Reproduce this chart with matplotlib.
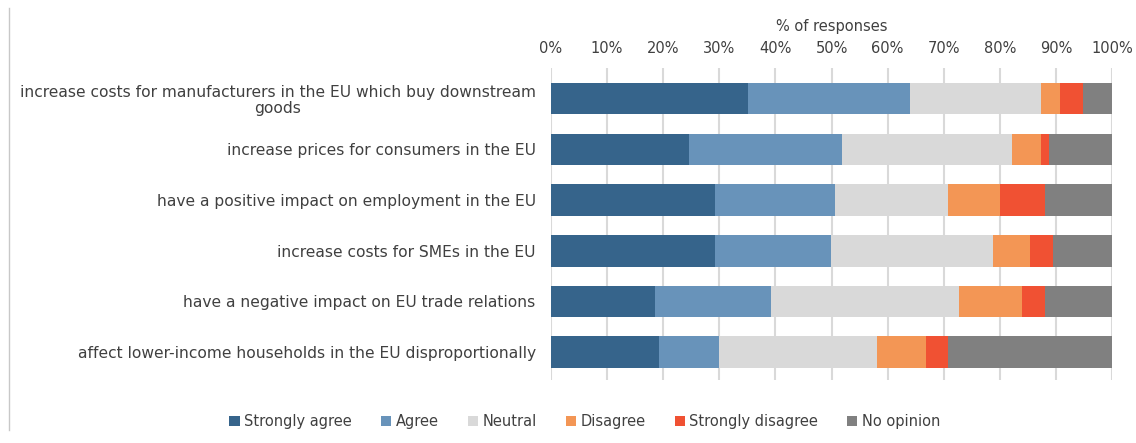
import matplotlib
matplotlib.use("Agg")
import matplotlib.pyplot as plt
from matplotlib.lines import Line2D
import numpy as np

statements = [
    "increase costs for manufacturers in the EU which buy downstream\ngoods",
    "increase prices for consumers in the EU",
    "have a positive impact on employment in the EU",
    "increase costs for SMEs in the EU",
    "have a negative impact on EU trade relations",
    "affect lower-income households in the EU disproportionally",
]
categories = ["Strongly agree", "Agree", "Neutral", "Disagree", "Strongly disagree", "No opinion"]
colors = ["#36648b", "#6893ba", "#d9d9d9", "#f39655", "#f05133", "#808080"]

strongly_agree = [35.2, 24.6, 29.2, 29.2, 18.6, 19.3]
agree = [28.8, 27.3, 21.4, 20.7, 20.6, 10.6]
neutral = [23.4, 30.2, 20.1, 28.8, 33.5, 28.2]
disagree = [3.3, 5.3, 9.4, 6.7, 11.3, 8.7]
strongly_disagree = [4.1, 1.3, 7.9, 4.0, 4.1, 3.9]
no_opinion = [5.2, 11.3, 12.0, 10.6, 11.9, 29.3]

series = [strongly_agree, agree, neutral, disagree, strongly_disagree, no_opinion]

txt = "#404040"
plt.rcParams['font.family'] = ['DejaVu Sans']

fig = plt.figure(figsize=(11.36, 4.43), dpi=100)
ax = fig.add_axes([0.485, 0.142, 0.494, 0.704])

y = np.arange(len(statements))
left = np.zeros(len(statements))
for name, vals, c in zip(categories, series, colors):
    vals = np.array(vals)
    ax.barh(y, vals, left=left, height=0.62, color=c, label=name, zorder=3)
    left += vals

ax.set_xlim(0, 100)
ax.set_ylim(len(statements) - 0.45, -0.6)
ax.set_xticks(np.arange(0, 101, 10))
ax.set_xticklabels([f"{v}%" for v in range(0, 101, 10)])
ax.xaxis.tick_top()
ax.xaxis.set_label_position("top")
ax.set_xlabel("% of responses", color=txt, fontsize=10.5, labelpad=7)
ax.set_yticks(y)
ax.set_yticklabels(statements, multialignment="center", linespacing=1.1)
ax.tick_params(axis="both", length=0, colors=txt)
ax.tick_params(axis="x", labelsize=10.5, pad=9)
ax.tick_params(axis="y", labelsize=11.2, pad=11)
ax.grid(axis="x", color="#d9d9d9", linewidth=1.5, zorder=0)
for s in ax.spines.values():
    s.set_visible(False)

ax.legend(loc="lower center", bbox_to_anchor=(0.5 * 1136 / (0.494 * 1136) - 0.485 / 0.494 + 0.03, -0.2),
          bbox_transform=ax.transAxes, ncol=6, frameon=False, fontsize=10.5,
          handlelength=0.7, handleheight=0.7, handletextpad=0.3, columnspacing=2.0,
          labelcolor=txt)

fig.add_artist(Line2D([9 / 1136, 9 / 1136], [1 - 8 / 443, 1 - 430 / 443],
                      transform=fig.transFigure, color="#c8c8c8", linewidth=1))

fig.savefig("out.png", dpi=100)
